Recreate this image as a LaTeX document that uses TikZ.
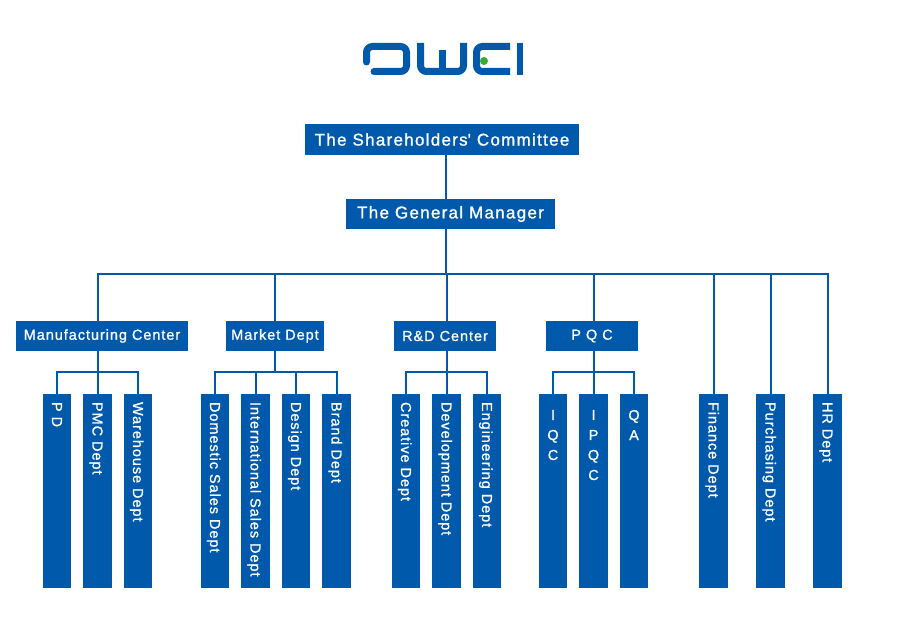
\documentclass[tikz,border=0pt]{standalone}
\usepackage{fontspec}
\newfontfamily\headfont[LetterSpace=7.5, FakeBold=1.2]{Liberation Sans}
\newfontfamily\unitfont[LetterSpace=6.5, FakeBold=1]{Liberation Sans}
\definecolor{dweiBlue}{RGB}{0, 89, 170}
\definecolor{dweiGreen}{RGB}{58, 170, 53}

\begin{document}
\begin{tikzpicture}[x=1pt, y=-1pt, node distance=40.5pt,
        headbox/.style={fill=dweiBlue, text=white, inner sep=0pt, minimum height=31pt, font=\headfont\fontsize{17}{19}\selectfont},
        unitbox/.style={fill=dweiBlue, text=white, inner sep=0pt, minimum height=30pt, font=\unitfont\fontsize{14.5}{17}\selectfont},
        deptbar/.style={fill=dweiBlue, inner sep=0pt, minimum width=28.5pt, minimum height=194pt},
        vlabel/.style={rotate=-90, anchor=west, inner sep=0pt, text=white, text height=10pt, text depth=0pt, font=\unitfont\fontsize{14.5}{17}\selectfont},
        stacklabel/.style={anchor=north, align=center, inner sep=0pt, text=white, font=\unitfont\fontsize{14.5}{20}\selectfont},
        link/.style={draw=dweiBlue, line width=2pt}]
            \path[fill=white, use as bounding box] (0,0) rectangle (900,628);
            % logo
            \begin{scope}[draw=dweiBlue, line width=7pt, rounded corners=6pt]
                \draw[line cap=round] (366.5,62) -- (366.5,46.5) -- (406.5,46.5) -- (406.5,71.5) -- (374,71.5);
                \draw (420.5,43) -- (420.5,71.5) -- (463.5,71.5) -- (463.5,43);
                \draw (442,50) -- (442,71.5);
                \draw (510,46.5) -- (476.5,46.5) -- (476.5,71.5) -- (510,71.5);
                \draw[rounded corners=0pt, line width=6.5pt] (520,43) -- (520,75);
            \end{scope}
            \fill[dweiGreen] (484,61) circle (4pt);

            \node[headbox, minimum width=274pt] (sh) at (442,139.5) {The Shareholders\textquotesingle{} Committee};
            \node[headbox, minimum width=209pt, minimum height=30pt] (gm) at (450.5,214) {The General Manager};
            \coordinate (spine) at (446,274);

            \node[unitbox, minimum width=172pt] (mfg) at (102,336) {Manufacturing Center};
            \node[unitbox, minimum width=98pt] (market) at (275,336) {Market Dept};
            \node[unitbox, minimum width=102pt] (rd) at (445,336) {R\&D Center};
            \node[unitbox, minimum width=92pt] (pqc) at (592,336) {P Q C};

            \node[deptbar] (pd) at (57,491) {};
            \node[deptbar, right of=pd] (pmc) {};
            \node[deptbar, right of=pmc] (wh) {};
            \node[deptbar] (dom) at (215,491) {};
            \node[deptbar, right of=dom] (intl) {};
            \node[deptbar, right of=intl] (design) {};
            \node[deptbar, right of=design] (brand) {};
            \node[deptbar] (creative) at (406,491) {};
            \node[deptbar, right of=creative] (dev) {};
            \node[deptbar, right of=dev] (eng) {};
            \node[deptbar] (iqc) at (553,491) {};
            \node[deptbar, right of=iqc] (ipqc) {};
            \node[deptbar, right of=ipqc] (qa) {};
            \node[deptbar] (fin) at (713.5,491) {};
            \node[deptbar] (pur) at (770.5,491) {};
            \node[deptbar] (hr) at (827.5,491) {};

            \node[vlabel] (pd-t) at ([yshift=-8pt]pd.north) {P D};
            \node[vlabel] (pmc-t) at ([yshift=-8pt]pmc.north) {PMC Dept};
            \node[vlabel] (wh-t) at ([yshift=-8pt]wh.north) {Warehouse Dept};
            \node[vlabel] (dom-t) at ([yshift=-8pt]dom.north) {Domestic Sales Dept};
            \node[vlabel] (intl-t) at ([yshift=-8pt]intl.north) {International Sales Dept};
            \node[vlabel] (design-t) at ([yshift=-8pt]design.north) {Design Dept};
            \node[vlabel] (brand-t) at ([yshift=-8pt]brand.north) {Brand Dept};
            \node[vlabel] (creative-t) at ([yshift=-8pt]creative.north) {Creative Dept};
            \node[vlabel] (dev-t) at ([yshift=-8pt]dev.north) {Development Dept};
            \node[vlabel] (eng-t) at ([yshift=-8pt]eng.north) {Engineering Dept};
            \node[stacklabel] (iqc-t) at ([yshift=-16pt]iqc.north) {I\\Q\\C};
            \node[stacklabel] (ipqc-t) at ([yshift=-16pt]ipqc.north) {I\\P\\Q\\C};
            \node[stacklabel] (qa-t) at ([yshift=-16pt]qa.north) {Q\\A};
            \node[vlabel] (fin-t) at ([yshift=-8pt]fin.north) {Finance Dept};
            \node[vlabel] (pur-t) at ([yshift=-8pt]pur.north) {Purchasing Dept};
            \node[vlabel] (hr-t) at ([yshift=-8pt]hr.north) {HR Dept};

            \coordinate (mfgbus) at (pmc.north |- 0,372);
            \coordinate (mktbus) at (275,372);
            \coordinate (rdbus) at (dev.north |- 0,372);
            \coordinate (pqcbus) at (ipqc.north |- 0,372);

            \draw[link] (sh.south -| spine) -- (gm.north -| spine);
            \draw[link] (gm.south -| spine) -- (spine);
            \foreach \t in {mfg.north -| mfgbus, market.north, rd.north -| rdbus, pqc.north -| pqcbus, fin.north, pur.north, hr.north}
                \draw[link] (spine) -| (\t);
            \draw[link] (mfg.south -| mfgbus) -- (mfgbus);
            \draw[link] (market.south -| mktbus) -- (mktbus);
            \draw[link] (rd.south -| rdbus) -- (rdbus);
            \draw[link] (pqc.south -| pqcbus) -- (pqcbus);
            \foreach \c in {pd, pmc, wh}
                \draw[link] (mfgbus) -| (\c.north);
            \foreach \c in {dom, intl, design, brand}
                \draw[link] (mktbus) -| (\c.north);
            \foreach \c in {creative, dev, eng}
                \draw[link] (rdbus) -| (\c.north);
            \foreach \c in {iqc, ipqc, qa}
                \draw[link] (pqcbus) -| (\c.north);
        \end{tikzpicture}
\end{document}
